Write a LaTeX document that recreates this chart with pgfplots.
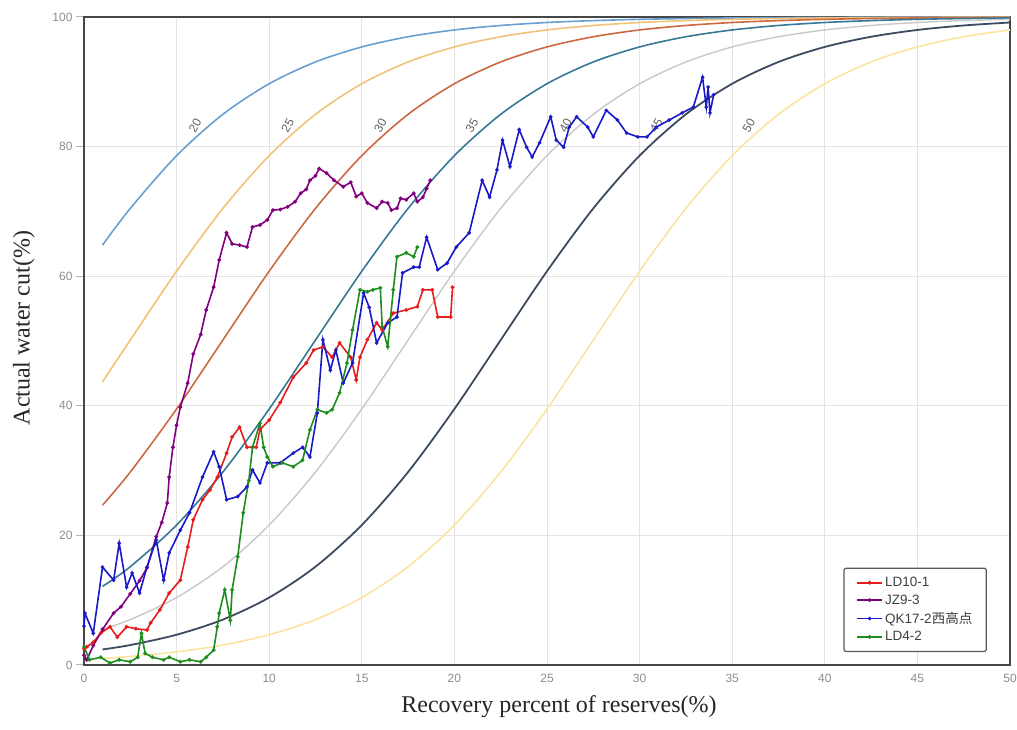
\documentclass[border=0pt]{standalone}
\usepackage{fontspec}
\setmainfont{Liberation Serif}
\newfontfamily\tickfont{Liberation Sans}
\newfontfamily\cjk{Noto Sans CJK SC}
\usepackage{pgfplots}
\pgfplotsset{compat=1.18}
\definecolor{c20}{RGB}{105,160,210}
\definecolor{c25}{RGB}{240,195,120}
\definecolor{c30}{RGB}{205,105,65}
\definecolor{c35}{RGB}{55,120,150}
\definecolor{c40}{RGB}{200,200,200}
\definecolor{c45}{RGB}{60,75,95}
\definecolor{c50}{RGB}{250,228,160}
\definecolor{sred}{RGB}{228,30,30}
\definecolor{spur}{RGB}{128,0,128}
\definecolor{sblue}{RGB}{25,25,200}
\definecolor{sgreen}{RGB}{30,140,30}
\begin{document}
\begin{tikzpicture}
\path[use as bounding box] (-84pt,-65pt) rectangle (933pt,665pt);
\begin{axis}[
  at={(0pt,0pt)}, anchor=south west,
  scale only axis, width=926pt, height=648pt,
  xmin=0, xmax=50, ymin=0, ymax=100,
  xtick={0,5,...,50}, ytick={0,20,...,100},
  grid=major,
  major grid style={draw=gray!22, line width=1pt},
  axis line style={draw=gray!55!black, line width=1.5pt},
  xtick pos=bottom, ytick pos=left,
  tick align=outside, major tick length=8pt,
  xtick style={draw=none},
  ytick style={draw=gray!60, line width=1pt},
  /pgf/number format/assume math mode=true,
  ticklabel style={font=\tickfont\fontsize{12}{12}\selectfont, text=gray!90},
  xticklabel style={yshift=2pt},
  xlabel={Recovery percent of reserves(\%)},
  ylabel={Actual water cut(\%)},
  label style={font=\fontsize{24}{28}\selectfont, text=black!85},
  xlabel style={at={(axis description cs:0.5,0)}, anchor=center, yshift=-42pt, xshift=12pt},
  ylabel style={at={(axis description cs:-0.065,0.52)}, anchor=center},
  legend style={at={(0.975,0.02)}, anchor=south east, draw=gray!70!black, line width=1.2pt,
    rounded corners=2pt, font=\tickfont\fontsize{13.5}{16}\selectfont, text=black!75,
    inner xsep=12pt, inner ysep=7pt, row sep=2.5pt},
  legend cell align=left,
  legend image code/.code={\draw[mark repeat=2,mark phase=2] plot coordinates {(0cm,0cm)(0.45cm,0cm)(0.9cm,0cm)};},
]
% type curves (recoverable reserves 20..50 %)
\addplot[c20, line width=1.6pt, smooth, forget plot] coordinates {(1,64.80)(2.5,70.46)(5,78.60)(7.5,84.98)(10,89.70)(12.5,93.06)(15,95.38)(17.5,96.95)(20,98.00)(22.5,98.69)(25,99.15)(27.5,99.44)(30,99.64)(32.5,99.76)(35,99.85)(37.5,99.90)(40,99.94)(42.5,99.96)(45,99.97)(47.5,99.98)(50,99.99)};
\addplot[c25, line width=1.6pt, smooth, forget plot] coordinates {(1,43.70)(2.5,50.15)(5,60.77)(7.5,70.46)(10,78.60)(12.5,84.98)(15,89.70)(17.5,93.06)(20,95.38)(22.5,96.95)(25,98.00)(27.5,98.69)(30,99.15)(32.5,99.44)(35,99.64)(37.5,99.76)(40,99.85)(42.5,99.90)(45,99.94)(47.5,99.96)(50,99.97)};
\addplot[c30, line width=1.6pt, smooth, forget plot] coordinates {(1,24.66)(2.5,29.78)(5,39.51)(7.5,50.15)(10,60.77)(12.5,70.46)(15,78.60)(17.5,84.98)(20,89.70)(22.5,93.06)(25,95.38)(27.5,96.95)(30,98.00)(32.5,98.69)(35,99.15)(37.5,99.44)(40,99.64)(42.5,99.76)(45,99.85)(47.5,99.90)(50,99.94)};
\addplot[c35, line width=1.6pt, smooth, forget plot] coordinates {(1,12.13)(2.5,15.17)(5,21.60)(7.5,29.78)(10,39.51)(12.5,50.15)(15,60.77)(17.5,70.46)(20,78.60)(22.5,84.98)(25,89.70)(27.5,93.06)(30,95.38)(32.5,96.95)(35,98.00)(37.5,98.69)(40,99.15)(42.5,99.44)(45,99.64)(47.5,99.76)(50,99.85)};
\addplot[c40, line width=1.4pt, smooth, forget plot] coordinates {(1,5.50)(2.5,7.01)(5,10.41)(7.5,15.17)(10,21.60)(12.5,29.78)(15,39.51)(17.5,50.15)(20,60.77)(22.5,70.46)(25,78.60)(27.5,84.98)(30,89.70)(32.5,93.06)(35,95.38)(37.5,96.95)(40,98.00)(42.5,98.69)(45,99.15)(47.5,99.44)(50,99.64)};
\addplot[c45, line width=1.8pt, smooth, forget plot] coordinates {(1,2.40)(2.5,3.08)(5,4.67)(7.5,7.01)(10,10.41)(12.5,15.17)(15,21.60)(17.5,29.78)(20,39.51)(22.5,50.15)(25,60.77)(27.5,70.46)(30,78.60)(32.5,84.98)(35,89.70)(37.5,93.06)(40,95.38)(42.5,96.95)(45,98.00)(47.5,98.69)(50,99.15)};
\addplot[c50, line width=1.6pt, smooth, forget plot] coordinates {(1,1.03)(2.5,1.32)(5,2.02)(7.5,3.08)(10,4.67)(12.5,7.01)(15,10.41)(17.5,15.17)(20,21.60)(22.5,29.78)(25,39.51)(27.5,50.15)(30,60.77)(32.5,70.46)(35,78.60)(37.5,84.98)(40,89.70)(42.5,93.06)(45,95.38)(47.5,96.95)(50,98.00)};
\foreach \xx/\lab in {6.0/20,11.0/25,16.0/30,20.95/35,26.0/40,30.9/45,35.9/50}{
  \edef\tmp{\noexpand\node[rotate=60, inner sep=0pt, font=\noexpand\tickfont\noexpand\fontsize{12}{12}\noexpand\selectfont, text=gray!75!black] at (axis cs:\xx,83.3) {\lab};}
  \tmp
}
% field data
\addplot[sred, line width=1.6pt, mark=*, mark size=1pt] coordinates {(0,2.5)(0.15,2.8)(0.5,3.5)(0.9,4.9)(1.4,5.9)(1.8,4.3)(2.3,5.9)(2.8,5.6)(3.4,5.4)(3.6,6.5)(4.1,8.5)(4.6,11.1)(5.2,13.1)(5.6,18.2)(5.9,22.4)(6.4,25.5)(6.8,27.0)(7.2,29.0)(7.7,32.7)(8.0,35.2)(8.4,36.7)(8.8,33.6)(9.3,33.6)(9.5,36.3)(10.0,37.8)(10.6,40.5)(11.3,44.4)(12.0,46.6)(12.4,48.6)(12.9,49.1)(13.4,47.5)(13.8,49.7)(14.4,47.5)(14.7,44.0)(14.9,47.5)(15.3,50.2)(15.8,52.8)(16.1,51.7)(16.7,54.3)(17.4,54.8)(18.0,55.3)(18.3,57.9)(18.8,57.9)(19.1,53.7)(19.8,53.7)(19.9,58.3)};
\addlegendentry{LD10-1}
\addplot[spur, line width=1.6pt, mark=*, mark size=1pt] coordinates {(0,1.5)(0.15,0.8)(0.5,3)(1.0,5.5)(1.6,8)(2.0,9)(2.5,11)(3.0,13)(3.4,15)(3.9,19.8)(4.2,22)(4.5,25)(4.6,29)(4.8,33.6)(5.0,37)(5.2,39.8)(5.6,43.5)(5.9,48)(6.3,51)(6.6,54.8)(7.0,58.3)(7.3,62.5)(7.7,66.7)(8.0,65)(8.4,64.8)(8.8,64.5)(9.1,67.6)(9.5,67.9)(9.9,68.7)(10.2,70.2)(10.6,70.3)(11.0,70.7)(11.4,71.5)(11.7,72.8)(12.0,73.4)(12.2,74.8)(12.5,75.5)(12.7,76.6)(13.1,75.9)(13.5,74.8)(14.0,73.8)(14.4,74.5)(14.7,72.3)(15.0,72.8)(15.3,71.3)(15.8,70.5)(16.1,71.5)(16.4,71.3)(16.6,70.2)(16.9,70.5)(17.1,72)(17.4,71.8)(17.8,72.8)(18.0,71.5)(18.3,72.2)(18.5,73.5)(18.7,74.8)};
\addlegendentry{JZ9-3}
\addplot[sblue, line width=1.6pt, mark=*, mark size=0.9pt] coordinates {(0,6)(0.05,8)(0.5,4.9)(1.0,15.1)(1.6,13.1)(1.9,18.8)(2.3,12)(2.6,14.2)(3.0,11.1)(3.4,15.1)(3.9,19.3)(4.3,13.1)(4.6,17.3)(5.2,20.8)(5.7,23.5)(6.4,29.0)(7.0,32.9)(7.3,30.6)(7.7,25.5)(8.3,26.0)(8.8,27.5)(9.1,30.1)(9.5,28.1)(9.9,31.2)(10.6,31.2)(11.3,32.7)(11.8,33.6)(12.2,32.1)(12.6,38.9)(12.9,50.2)(13.3,45.5)(13.6,48.6)(14.0,43.5)(14.5,46.6)(15.1,57.4)(15.4,55.2)(15.8,49.7)(16.4,52.8)(16.9,53.7)(17.2,60.5)(17.8,61.4)(18.1,61.4)(18.5,66.0)(19.1,61.0)(19.6,62.0)(20.1,64.5)(20.8,66.7)(21.5,74.8)(21.9,72.2)(22.3,76.4)(22.6,81.0)(23.0,76.9)(23.5,82.6)(23.9,79.9)(24.2,78.4)(24.6,80.6)(25.2,84.6)(25.5,81.0)(25.9,79.9)(26.2,83.0)(26.6,84.6)(27.2,83.0)(27.5,81.5)(28.2,85.6)(28.8,84.1)(29.3,82.1)(29.9,81.5)(30.4,81.5)(30.9,83.0)(31.6,84.1)(32.3,85.2)(32.9,86.1)(33.4,90.7)(33.6,86.1)(33.7,89.2)(33.8,85.2)(34.0,88)};
\addlegendentry{QK17-2{\cjk 西高点}}
\addplot[sgreen, line width=1.6pt, mark=*, mark size=1pt] coordinates {(0,2.8)(0.3,0.8)(0.9,1.2)(1.4,0.3)(1.9,0.8)(2.5,0.5)(2.9,1.2)(3.1,4.9)(3.3,1.8)(3.7,1.2)(4.3,0.8)(4.6,1.2)(5.2,0.5)(5.7,0.8)(6.3,0.5)(6.6,1.2)(7.0,2.3)(7.2,5.9)(7.3,8.0)(7.6,11.6)(7.9,6.9)(8.0,11.6)(8.3,16.7)(8.6,23.5)(8.9,28.5)(9.1,33.6)(9.5,37.3)(9.7,33.6)(9.9,32.1)(10.2,30.6)(10.7,31.2)(11.3,30.6)(11.8,31.6)(12.2,36.3)(12.6,39.4)(13.1,38.9)(13.4,39.4)(13.8,42.0)(14.2,46.6)(14.5,51.7)(14.9,57.9)(15.3,57.6)(15.6,57.9)(16.0,58.2)(16.1,52.2)(16.4,49.1)(16.7,57.9)(16.9,63.0)(17.4,63.6)(17.8,63.0)(18.0,64.5)};
\addlegendentry{LD4-2}
\end{axis}
\end{tikzpicture}
\end{document}
